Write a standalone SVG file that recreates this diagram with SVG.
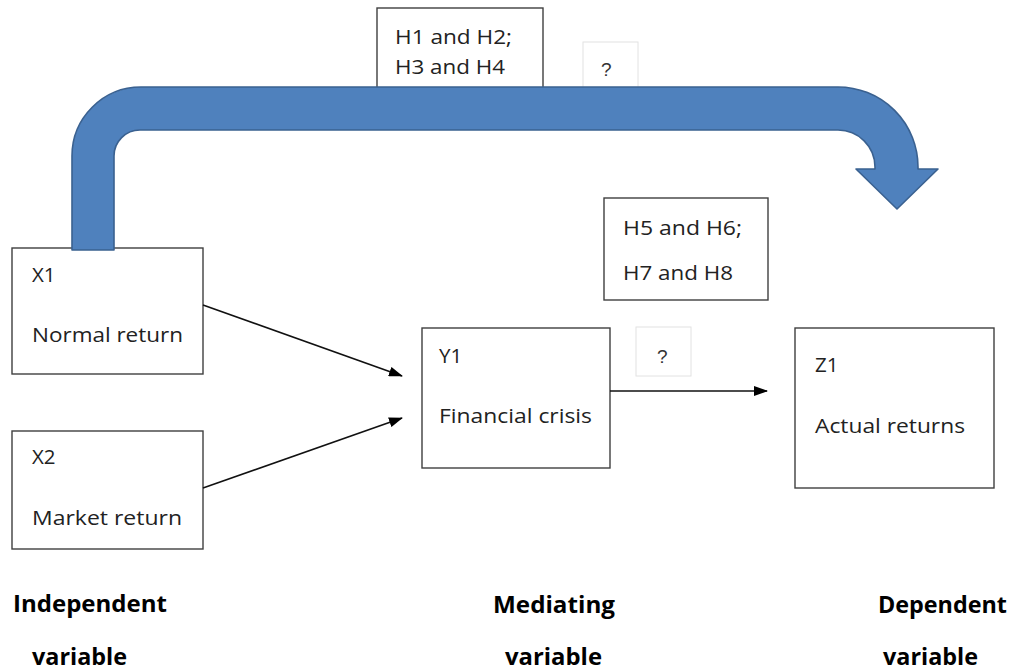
<svg xmlns="http://www.w3.org/2000/svg" width="1015" height="671" viewBox="0 0 1015 671">
<style>
.box{fill:#fff;stroke:#3f3f3f;stroke-width:1.4}
.qbox{fill:#fff;stroke:#e2e2e2;stroke-width:1}
.t{font-family:"Open Sans","Liberation Sans",sans-serif;font-size:20.5px;fill:#222}
.q{font-family:"Liberation Sans",sans-serif;font-size:19px;fill:#333}
.lbl{font-family:"Open Sans","Liberation Sans",sans-serif;font-size:24px;font-weight:bold;fill:#000}
.conn{stroke:#111;stroke-width:1.6;fill:none}
.big{fill:#4f81bd;stroke:#3a6190;stroke-width:1.6;stroke-linejoin:round}
</style>
<defs>
<marker id="ah" markerWidth="14" markerHeight="10" refX="13" refY="5" orient="auto" markerUnits="userSpaceOnUse">
<path d="M0,0 L14,5 L0,10 Z" fill="#000"/>
</marker>
</defs>
<rect width="1015" height="671" fill="#fff"/>

<g id="hyp-top">
<rect class="box" x="377" y="8" width="166" height="90"/>
<text class="t" x="395" y="44" textLength="117" lengthAdjust="spacingAndGlyphs">H1 and H2;</text>
<text class="t" x="395" y="74" textLength="110" lengthAdjust="spacingAndGlyphs">H3 and H4</text>
</g>
<g id="q-top">
<rect class="qbox" x="583" y="42" width="55" height="60"/>
<text class="q" x="601" y="76">?</text>
</g>

<g id="x1">
<rect class="box" x="12" y="248" width="191" height="126"/>
<text class="t" x="32" y="282">X1</text>
<text class="t" x="32" y="342" textLength="151" lengthAdjust="spacingAndGlyphs">Normal return</text>
</g>
<g id="x2">
<rect class="box" x="12" y="431" width="191" height="118"/>
<text class="t" x="32" y="464">X2</text>
<text class="t" x="32" y="525" textLength="150" lengthAdjust="spacingAndGlyphs">Market return</text>
</g>
<g id="y1">
<rect class="box" x="422" y="328" width="188" height="140"/>
<text class="t" x="439" y="363">Y1</text>
<text class="t" x="439" y="423" textLength="153" lengthAdjust="spacingAndGlyphs">Financial crisis</text>
</g>
<g id="hyp-mid">
<rect class="box" x="604" y="198" width="164" height="102"/>
<text class="t" x="623" y="235" textLength="119" lengthAdjust="spacingAndGlyphs">H5 and H6;</text>
<text class="t" x="623" y="280" textLength="110" lengthAdjust="spacingAndGlyphs">H7 and H8</text>
</g>
<g id="q-mid">
<rect class="qbox" x="636" y="327" width="55" height="49"/>
<text class="q" x="657" y="363">?</text>
</g>
<g id="z1">
<rect class="box" x="795" y="328" width="199" height="160"/>
<text class="t" x="815" y="372">Z1</text>
<text class="t" x="815" y="433" textLength="150" lengthAdjust="spacingAndGlyphs">Actual returns</text>
</g>

<g id="connectors">
<line class="conn" x1="203" y1="305" x2="402" y2="376" marker-end="url(#ah)"/>
<line class="conn" x1="203" y1="488" x2="402" y2="418" marker-end="url(#ah)"/>
<line class="conn" x1="610" y1="391" x2="767" y2="391" marker-end="url(#ah)"/>
<path class="big" d="M72,250 L72,156 A69,69 0 0 1 141,87 L838,87 A80,80 0 0 1 918,167 L918,169 L938,169 L897,209 L856,169 L875,169 L875,167 A37,37 0 0 0 838,130 L140,130 A26,26 0 0 0 114,156 L114,250 Z"/>
</g>

<g id="labels">
<text class="lbl" x="13" y="612" textLength="154" lengthAdjust="spacingAndGlyphs">Independent</text>
<text class="lbl" x="32" y="665" textLength="95" lengthAdjust="spacingAndGlyphs">variable</text>
<text class="lbl" x="493" y="613" textLength="122" lengthAdjust="spacingAndGlyphs">Mediating</text>
<text class="lbl" x="505" y="665" textLength="97" lengthAdjust="spacingAndGlyphs">variable</text>
<text class="lbl" x="878" y="613" textLength="129" lengthAdjust="spacingAndGlyphs">Dependent</text>
<text class="lbl" x="883" y="665" textLength="95" lengthAdjust="spacingAndGlyphs">variable</text>
</g>
</svg>
